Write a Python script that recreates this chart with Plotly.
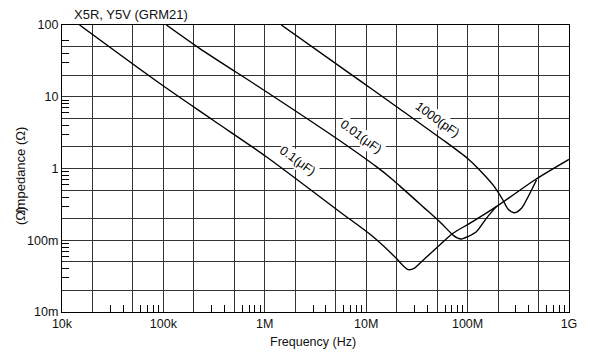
import plotly.graph_objects as go

# ---- data (frequency in Hz, impedance in ohm) ----
f_01uF = [14.9e3, 91.6e3, 307e3, 1.035e6, 5.47e6, 11.7e6, 19.8e6, 22.5e6,
          26.0e6, 30.0e6, 35.0e6, 53.1e6, 71.8e6, 105e6, 192e6, 459e6, 1.0e9]
z_01uF = [100, 15.4, 4.74, 1.46, 0.25, 0.112, 0.056, 0.046,
          0.039, 0.041, 0.050, 0.086, 0.125, 0.172, 0.294, 0.692, 1.34]

f_001uF = [107e3, 227e3, 1.035e6, 5.07e6, 12.6e6, 18.4e6, 23.1e6, 36.3e6, 53.1e6,
           71.8e6, 79e6, 86.9e6, 100e6, 122e6, 153e6, 192e6]
z_001uF = [100, 47.3, 11.75, 2.64, 1.06, 0.692, 0.52, 0.294, 0.181,
           0.118, 0.108, 0.104, 0.112, 0.1315, 0.202, 0.294]

f_1000pF = [1.455e6, 6.86e6, 11.7e6, 57.2e6, 100e6, 122e6, 178e6, 223e6, 250e6,
            292e6, 340e6, 380e6, 427e6, 478e6]
z_1000pF = [100, 21.2, 12.4, 2.5, 1.38, 1.06, 0.59, 0.364, 0.273,
            0.242, 0.279, 0.364, 0.501, 0.692]

x_tickvals = [1e4, 2e4, 5e4, 1e5, 2e5, 5e5, 1e6, 2e6, 5e6, 1e7, 2e7, 5e7, 1e8, 2e8, 5e8, 1e9]
x_ticktext = ['10k', '', '', '100k', '', '', '1M', '', '', '10M', '', '', '100M', '', '', '1G']
y_tickvals = [0.01, 0.02, 0.05, 0.1, 0.2, 0.5, 1, 2, 5, 10, 20, 50, 100]
y_ticktext = ['10m', '', '', '100m', '', '', '1', '', '', '10', '', '', '100']

x_minor = [m * d for d in [1e4, 1e5, 1e6, 1e7, 1e8] for m in [3, 4, 6, 7, 8, 9]]
y_minor = [m * d for d in [0.01, 0.1, 1] for m in [3, 4, 6, 7, 8, 9]] + [30, 40, 60]

FONT = "Liberation Sans"

fig = go.Figure()
for fx, zy in [(f_01uF, z_01uF), (f_001uF, z_001uF), (f_1000pF, z_1000pF)]:
    fig.add_trace(go.Scatter(x=fx, y=zy, mode='lines',
                             line=dict(color='black', width=1.4, shape='spline', smoothing=0.8),
                             showlegend=False, hoverinfo='skip'))

grid = '#333333'
fig.update_xaxes(type='log', range=[4, 9], tickvals=x_tickvals, ticktext=x_ticktext,
                 showgrid=True, gridcolor=grid, gridwidth=1, ticks='',
                 showline=True, linecolor='black', linewidth=1.3, mirror=True,
                 zeroline=False, tickfont=dict(family=FONT, size=12.5, color='#111'),
                 minor=dict(tickvals=x_minor, ticks='inside', ticklen=7, tickwidth=1,
                            tickcolor='black', showgrid=False))
fig.update_yaxes(type='log', range=[-2, 2], tickvals=y_tickvals, ticktext=y_ticktext,
                 showgrid=True, gridcolor=grid, gridwidth=1, ticks='',
                 showline=True, linecolor='black', linewidth=1.3, mirror=True,
                 zeroline=False, tickfont=dict(family=FONT, size=12.5, color='#111'),
                 minor=dict(tickvals=y_minor, ticks='inside', ticklen=7, tickwidth=1,
                            tickcolor='black', showgrid=False))

W, H = 590, 354
L, R, T, B = 62, 21, 25, 42
pw, ph = W - L - R, H - T - B

def px(xp):
    return (xp - L) / pw

def py(yp):
    return (H - B - yp) / ph

ann = []
# curve labels (white boxes over the lines)
for txt, lx, ly in [("1000(pF)", 7.708, 0.676), ("0.01(μF)", 6.952, 0.435), ("0.1(μF)", 6.324, 0.098)]:
    ann.append(dict(text=txt, x=lx, y=ly, xref='x', yref='y', showarrow=False, textangle=36,
                    bgcolor='white', borderpad=1, font=dict(family=FONT, size=12.5, color='black')))
# chart title
ann.append(dict(text="X5R, Y5V (GRM21)", x=px(72), y=py(14), xref='paper', yref='paper',
                xanchor='left', yanchor='middle', showarrow=False,
                font=dict(family=FONT, size=13, color='#111')))
# axis titles
ann.append(dict(text="Frequency (Hz)", x=px(313), y=py(342), xref='paper', yref='paper',
                xanchor='center', yanchor='middle', showarrow=False,
                font=dict(family=FONT, size=12.5, color='#111')))
ann.append(dict(text="Impedance (Ω)", x=px(20), y=py(170), xref='paper', yref='paper',
                xanchor='center', yanchor='middle', showarrow=False, textangle=-90,
                font=dict(family=FONT, size=13, color='#111')))
ann.append(dict(text="(Ω)", x=px(20), y=py(216), xref='paper', yref='paper',
                xanchor='center', yanchor='middle', showarrow=False, textangle=-90,
                font=dict(family=FONT, size=13, color='#111')))

fig.update_layout(width=W, height=H, margin=dict(l=L, r=R, t=T, b=B),
                  paper_bgcolor='white', plot_bgcolor='white', annotations=ann)

fig.write_html("out.html")
